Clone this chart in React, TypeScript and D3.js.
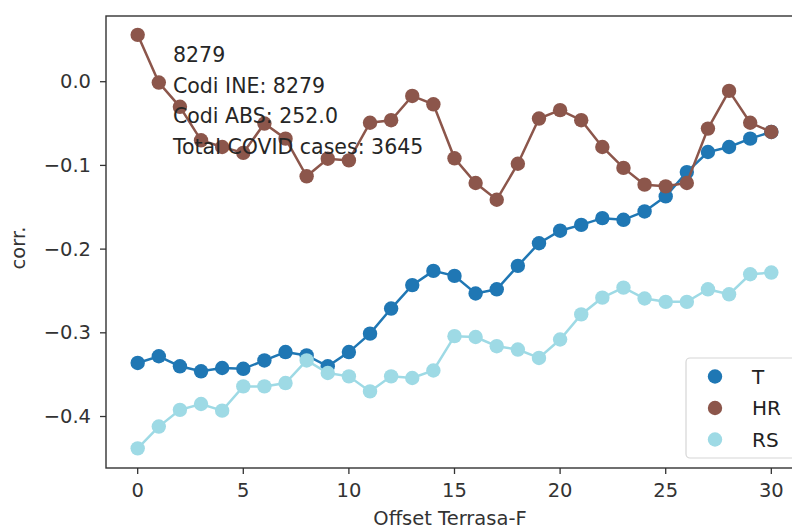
import React, { useRef, useEffect } from "react";
import * as d3 from "d3";

// offsets 0..30
const offsets = d3.range(0, 31);

const seriesT = [
  -0.336, -0.328, -0.34, -0.346, -0.342, -0.343, -0.333, -0.323, -0.327, -0.34,
  -0.323, -0.301, -0.271, -0.243, -0.226, -0.232, -0.253, -0.248, -0.22, -0.193,
  -0.178, -0.171, -0.163, -0.165, -0.155, -0.137, -0.108, -0.084, -0.078, -0.068,
  -0.06,
];

const seriesHR = [
  0.056, -0.001, -0.03, -0.07, -0.078, -0.085, -0.05, -0.068, -0.113, -0.092,
  -0.094, -0.049, -0.046, -0.017, -0.027, -0.0915, -0.121, -0.141, -0.098, -0.044,
  -0.034, -0.046, -0.078, -0.103, -0.123, -0.125, -0.121, -0.056, -0.011, -0.049,
  -0.06,
];

const seriesRS = [
  -0.438, -0.412, -0.392, -0.385, -0.393, -0.364, -0.364, -0.36, -0.333, -0.348,
  -0.352, -0.37, -0.352, -0.354, -0.345, -0.304, -0.305, -0.316, -0.32, -0.33,
  -0.308, -0.278, -0.258, -0.246, -0.259, -0.263, -0.263, -0.248, -0.254, -0.23,
  -0.228,
];

const seriesNames = ["T", "HR", "RS"];
const seriesColors = ["#1f77b4", "#8c564b", "#9edae5"];
const xTicks = [0, 5, 10, 15, 20, 25, 30];
const yTicks = [0.0, -0.1, -0.2, -0.3, -0.4];
const infoLines = ["8279", "Codi INE: 8279", "Codi ABS: 252.0", "Total COVID cases: 3645"];

const App = () => {
  const ref = useRef<SVGSVGElement>(null);

  useEffect(() => {
    const svg = d3.select(ref.current);
    svg.selectAll("*").remove();

    const width = 792;
    const height = 529;
    const left = 106;
    const right = 803; // right spine falls just outside the picture
    const top = 16;
    const bottom = 468;
    const font = "'DejaVu Sans', sans-serif";
    const fs = "19.5px";

    const x = d3.scaleLinear().domain([-1.5, 31.5]).range([left, right]);
    const y = d3.scaleLinear().domain([-0.4615, 0.0785]).range([bottom, top]);

    svg.attr("width", width).attr("height", height);
    svg.append("rect").attr("width", width).attr("height", height).attr("fill", "#fff");

    const all = [seriesT, seriesHR, seriesRS];
    const line = d3
      .line<number>()
      .x((d, i) => x(offsets[i]))
      .y((d) => y(d));

    all.forEach((vals, k) => {
      const g = svg.append("g");
      g.append("path")
        .attr("d", line(vals))
        .attr("fill", "none")
        .attr("stroke", seriesColors[k])
        .attr("stroke-width", 2.5);
      g.selectAll("circle")
        .data(vals)
        .enter()
        .append("circle")
        .attr("cx", (d, i) => x(offsets[i]))
        .attr("cy", (d) => y(d))
        .attr("r", 7.2)
        .attr("fill", seriesColors[k]);
    });

    // annotation
    svg
      .append("g")
      .selectAll("text")
      .data(infoLines)
      .enter()
      .append("text")
      .attr("x", 173)
      .attr("y", (d, i) => 62 + i * 30.5)
      .style("font-family", font)
      .style("font-size", "20.5px")
      .style("fill", "#262626")
      .text((d) => d);

    // spines
    svg
      .append("rect")
      .attr("x", left)
      .attr("y", top)
      .attr("width", right - left)
      .attr("height", bottom - top)
      .attr("fill", "none")
      .attr("stroke", "#333")
      .attr("stroke-width", 1.4);

    // x ticks
    const xt = svg.append("g");
    xTicks.forEach((t) => {
      xt.append("line")
        .attr("x1", x(t))
        .attr("x2", x(t))
        .attr("y1", bottom)
        .attr("y2", bottom + 6)
        .attr("stroke", "#333")
        .attr("stroke-width", 1.3);
      xt.append("text")
        .attr("x", x(t))
        .attr("y", bottom + 29)
        .attr("text-anchor", "middle")
        .style("font-family", font)
        .style("font-size", fs)
        .style("fill", "#333")
        .text(d3.format("d")(t));
    });

    // y ticks
    const yt = svg.append("g");
    yTicks.forEach((t) => {
      yt.append("line")
        .attr("x1", left - 6)
        .attr("x2", left)
        .attr("y1", y(t))
        .attr("y2", y(t))
        .attr("stroke", "#333")
        .attr("stroke-width", 1.3);
      yt.append("text")
        .attr("x", left - 15)
        .attr("y", y(t) + 6.5)
        .attr("text-anchor", "end")
        .style("font-family", font)
        .style("font-size", fs)
        .style("fill", "#333")
        .text(d3.format(".1f")(t).replace("-", "\u2212"));
    });

    // axis labels
    svg
      .append("text")
      .attr("x", 450)
      .attr("y", 525)
      .attr("text-anchor", "middle")
      .style("font-family", font)
      .style("font-size", fs)
      .style("fill", "#333")
      .text("Offset Terrasa-F");

    svg
      .append("text")
      .attr("transform", `translate(25,248) rotate(-90)`)
      .attr("text-anchor", "middle")
      .style("font-family", font)
      .style("font-size", fs)
      .style("fill", "#333")
      .text("corr.");

    // legend
    const lg = svg.append("g");
    lg.append("rect")
      .attr("x", 686)
      .attr("y", 358)
      .attr("width", 112)
      .attr("height", 100)
      .attr("rx", 4)
      .attr("fill", "#fff")
      .attr("fill-opacity", 0.8)
      .attr("stroke", "#d6d6d6")
      .attr("stroke-width", 1.2);
    seriesNames.forEach((name, k) => {
      const cy = 376.5 + k * 31.5;
      lg.append("circle").attr("cx", 715).attr("cy", cy).attr("r", 7.2).attr("fill", seriesColors[k]);
      lg.append("text")
        .attr("x", 752)
        .attr("y", cy + 7)
        .style("font-family", font)
        .style("font-size", "20px")
        .style("fill", "#222")
        .text(name);
    });
  }, []);

  return (
    <div style={{ position: "absolute", left: 0, top: 0 }}>
      <svg ref={ref} style={{ display: "block" }}></svg>
    </div>
  );
};

export default App;
